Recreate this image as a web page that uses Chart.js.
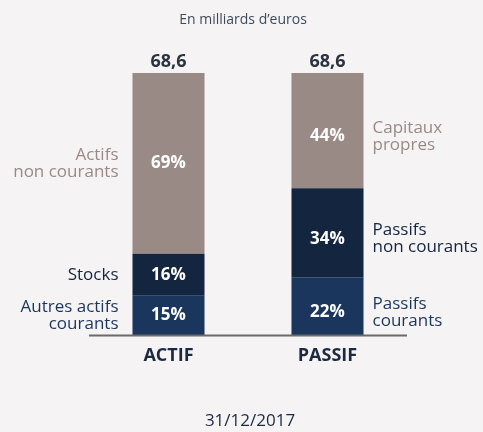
<!DOCTYPE html>
<html>
<head>
<meta charset="utf-8">
<script src="https://cdn.jsdelivr.net/npm/chart.js@4"></script>
<style>
  html, body { margin: 0; padding: 0; background: #f5f3f4; }
  #wrap { width: 483px; height: 432px; }
</style>
</head>
<body>
<div id="wrap"><canvas id="chart"></canvas></div>
<script>
const categories = ['ACTIF', 'PASSIF'];
const totals = ['68,6', '68,6'];
// parts en % du total, du bas vers le haut
const partBas = [15, 22];
const partMilieu = [16, 34];
const partHaut = [69, 44];
const labelsActif = [['Autres actifs', 'courants'], ['Stocks'], ['Actifs', 'non courants']];
const labelsPassif = [['Passifs', 'courants'], ['Passifs', 'non courants'], ['Capitaux', 'propres']];
const titre = 'En milliards d\u2019euros';
const dateLabel = '31/12/2017';

const colors = ['#1a365d', '#13253f', '#9a8a85'];
const FONT = '"Open Sans", "Noto Sans", sans-serif';

const annotations = {
  id: 'annotations',
  afterDatasetsDraw(chart) {
    const ctx = chart.ctx;
    const area = chart.chartArea;
    const x = chart.scales.x;
    const y = chart.scales.y;
    ctx.save();

    // titre
    ctx.fillStyle = '#3d4a5c';
    ctx.font = '14px ' + FONT;
    ctx.textAlign = 'center';
    ctx.textBaseline = 'middle';
    ctx.fillText(titre, 243, 20);

    // axe
    ctx.strokeStyle = '#6b6b6b';
    ctx.lineWidth = 2;
    ctx.beginPath();
    ctx.moveTo(area.left, area.bottom + 0.5);
    ctx.lineTo(area.right, area.bottom + 0.5);
    ctx.stroke();

    const sideLabels = [labelsActif, labelsPassif];
    const offsets = [0, 6];

    chart.data.datasets.forEach((ds, di) => {
      const meta = chart.getDatasetMeta(di);
      meta.data.forEach((bar, i) => {
        const cy = (bar.y + bar.base) / 2 + offsets[i];
        ctx.fillStyle = '#ffffff';
        ctx.font = 'bold 17px ' + FONT;
        ctx.textAlign = 'center';
        ctx.fillText(ds.data[i] + '%', bar.x, cy);

        const lines = sideLabels[i][di];
        ctx.font = '17px ' + FONT;
        ctx.fillStyle = colors[di];
        const lh = 17;
        const startY = cy - (lines.length - 1) * lh / 2;
        if (i === 0) {
          ctx.textAlign = 'right';
          lines.forEach((t, k) => ctx.fillText(t, bar.x - bar.width / 2 - 14, startY + k * lh));
        } else {
          ctx.textAlign = 'left';
          lines.forEach((t, k) => ctx.fillText(t, bar.x + bar.width / 2 + 9, startY + k * lh));
        }
      });
    });

    // totaux et catégories
    categories.forEach((c, i) => {
      const cx = x.getPixelForValue(i);
      ctx.textAlign = 'center';
      ctx.fillStyle = '#2a3340';
      ctx.font = 'bold 18px ' + FONT;
      ctx.fillText(totals[i], cx, y.getPixelForValue(100) - 11);
      ctx.fillStyle = '#1b2a40';
      ctx.font = 'bold 18px ' + FONT;
      ctx.fillText(c, cx, area.bottom + 21);
    });

    ctx.fillStyle = '#1b2a40';
    ctx.font = '17px ' + FONT;
    ctx.textAlign = 'center';
    ctx.fillText(dateLabel, 250, 421);
    ctx.restore();
  }
};

new Chart(document.getElementById('chart'), {
  type: 'bar',
  data: {
    labels: categories,
    datasets: [
      { data: partBas, backgroundColor: colors[0] },
      { data: partMilieu, backgroundColor: colors[1] },
      { data: partHaut, backgroundColor: colors[2] }
    ]
  },
  options: {
    responsive: true,
    maintainAspectRatio: false,
    animation: false,
    layout: { padding: { left: 89, right: 76, top: 73, bottom: 97 } },
    datasets: { bar: { barPercentage: 0.453, categoryPercentage: 1, borderWidth: 0 } },
    scales: {
      x: { stacked: true, display: false },
      y: { stacked: true, display: false, min: 0, max: 100 }
    },
    plugins: { legend: { display: false }, tooltip: { enabled: false }, title: { display: false } }
  },
  plugins: [annotations]
});
</script>
</body>
</html>
